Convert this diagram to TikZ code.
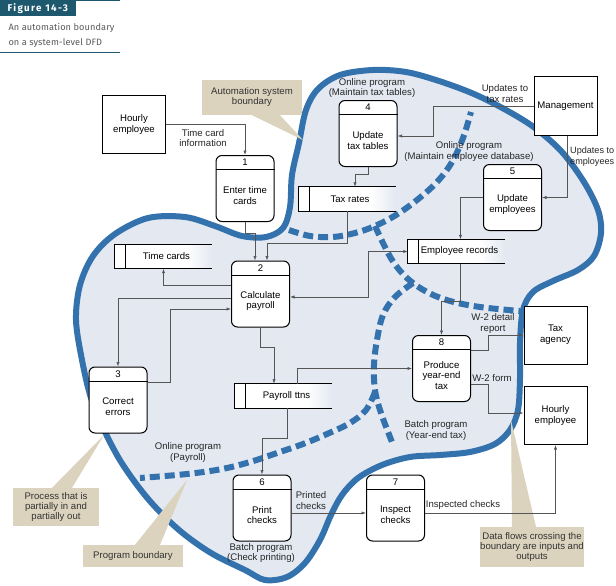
\documentclass[tikz,border=0pt]{standalone}
\usepackage{fontspec}
\setmainfont{Liberation Sans}
\newfontfamily\headfont[LetterSpace=14]{Fira Sans}
\newfontfamily\capfont[LetterSpace=1]{Fira Sans}
\usepackage{xcolor}
\usetikzlibrary{arrows.meta,calc}

\definecolor{blobblue}{RGB}{52,114,174}
\definecolor{blobfill}{RGB}{227,232,241}
\definecolor{notetan}{RGB}{219,211,189}
\definecolor{headteal}{RGB}{30,88,110}
\definecolor{flowgray}{RGB}{85,85,85}

\begin{document}
\begin{tikzpicture}[x=1pt, y=-1pt, >={Latex[length=4.5pt,width=3.2pt]},
  font=\fontsize{9.6}{10.8}\selectfont,
  proc/.style={draw, line width=1pt, rounded corners=6pt, fill=white,
    minimum width=58pt, minimum height=66pt, inner sep=0pt},
  procnum/.style={anchor=north, minimum height=14.5pt, inner sep=0pt},
  proctext/.style={align=center, inner sep=0pt},
  entity/.style={draw, line width=1pt, fill=white, minimum width=63pt,
    minimum height=58pt, align=center, inner sep=0pt},
  store/.style={minimum width=97pt, minimum height=24pt, inner sep=0pt,
    label={[xshift=3pt]center:#1},
    path picture={
      \fill[white] (path picture bounding box.south west)
        rectangle ([xshift=-25pt]path picture bounding box.north east);
      \shade[left color=white, right color=blobfill]
        ([xshift=-25pt]path picture bounding box.south east)
        rectangle (path picture bounding box.north east);}},
  flow/.style={draw=flowgray, line width=0.6pt, ->},
  flowtext/.style={align=center, inner sep=0pt, text=black!85},
  note/.style={fill=notetan, align=center, inner sep=0pt, text=black!80,
    font=\fontsize{9.6}{10}\selectfont},
  boundary/.style={draw=blobblue, line width=6pt, fill=blobfill},
  progline/.style={draw=blobblue, line width=6pt, dash pattern=on 10pt off 5pt},
]
  \useasboundingbox (0,0) rectangle (616,586);

  % figure caption
  \fill[headteal] (0,0) rectangle (76,16.5);
  \draw[headteal, line width=1pt] (0,0.5) -- (120,0.5);
  \node[anchor=west, text=white, font=\headfont\bfseries\fontsize{9.8}{10}\selectfont]
    (figno) at (4,8.5) {Figure 14-3};
  \node[anchor=north west, align=left, text=black!65, font=\capfont\fontsize{9.2}{15}\selectfont]
    (figcap) at (5,20) {An automation boundary\\on a system-level DFD};
  \draw[headteal, line width=1.2pt] (0,52.5) -- (120,52.5);

  % automation boundary
  \path[boundary] plot[smooth cycle, tension=0.55] coordinates {
    (373,70) (406,72) (439,81) (474,94) (506,110) (535,128) (562,152)
    (584,182) (598,210) (601,233) (594,256) (578,270) (553,281) (533,292)
    (523,310) (520,343) (520,378) (518,410) (510,430) (495,444) (470,452)
    (440,455) (410,457) (382,465) (358,478) (342,495) (331,515) (320,540)
    (305,563) (287,577) (265,580) (245,570) (211,553) (179,530) (149,500)
    (123,465) (105,432) (91,398) (82,360) (76,320) (80,285) (93,256)
    (115,234) (148,218) (185,217) (215,226) (242,236) (266,237) (283,228)
    (290,207) (292,175) (299,143) (306,110) (318,89) (340,75)};

  % program boundaries
  \draw[progline] plot[smooth, tension=0.6] coordinates {(289,230) (310,236)
    (333,237) (355,233) (375,226) (396,215) (417,200) (437,182) (452,162)
    (463,138) (471,112)};
  \draw[progline] plot[smooth, tension=0.6] coordinates {(375,226) (384,245)
    (394,263) (408,279) (427,292) (450,301) (480,307) (520,311)};
  \draw[progline] plot[smooth, tension=0.6] coordinates {(413,283) (395,297)
    (383,315) (377,340) (374,365) (375,390) (381,413) (392,442)};
  \draw[progline] plot[smooth, tension=0.6] coordinates {(375,392) (366,410)
    (350,423) (327,434) (303,444) (277,453) (250,462) (222,469) (187,474)
    (140,478)};

  % callouts
  \node[note, minimum width=100pt, minimum height=35pt] (nb1) at (252,97.5)
    {Automation system\\boundary};
  \coordinate (nb1tip) at (303,140);
  \fill[notetan] (nb1.south) -- (nb1tip) -- ([xshift=28pt]nb1.south) -- cycle;
  \node[note, minimum width=86pt, minimum height=38pt] (nb2) at (56,507)
    {Process that is\\partially in and\\partially out};
  \coordinate (nb2tip) at (104,435);
  \fill[notetan] ([xshift=-4pt]nb2.north) -- (nb2tip) -- ([xshift=16pt]nb2.north) -- cycle;
  \node[note, minimum width=100pt, minimum height=22pt] (nb3) at (133,556)
    {Program boundary};
  \coordinate (nb3tip) at (187,480);
  \fill[notetan] ([xshift=2pt]nb3.north) -- (nb3tip) -- ([xshift=27pt]nb3.north) -- cycle;
  \node[note, minimum width=104pt, minimum height=40pt] (nb4) at (532,547)
    {Data flows crossing the\\boundary are inputs and\\outputs};
  \coordinate (nb4tip) at (511,420);
  \fill[notetan] ([xshift=-20pt]nb4.north) -- (nb4tip) -- ([xshift=4pt]nb4.north) -- cycle;

  % external entities
  \node[entity] (he1) at (134,124.5) {Hourly\\employee};
  \node[entity] (mgmt) at (565.5,106) {Management};
  \node[entity] (tax) at (555.5,335) {Tax\\agency};
  \node[entity] (he2) at (555.5,415.5) {Hourly\\employee};

  % data stores
  \node[store=Time cards] (tc) at (163.5,256.5) {};
  \node[store=Tax rates] (tr) at (347,199) {};
  \node[store=Employee records] (er) at (456.5,251.5) {};
  \node[store=Payroll ttns] (pt) at (283.5,396) {};
  \foreach \s in {tc,tr,er,pt}{
    \draw[line width=1pt] (\s.north east) -- (\s.north west)
      -- (\s.south west) -- (\s.south east);
    \draw[line width=1pt] ([xshift=11pt]\s.north west) -- ([xshift=11pt]\s.south west);
  }

  % processes
  \foreach \n/\x/\y/\txt in {1/245/188.5/{Enter time\\cards},
      2/260.5/294/{Calculate\\payroll}, 3/118/400/{Correct\\errors},
      4/368/133.5/{Update\\tax tables}, 5/512.5/197.5/{Update\\employees},
      6/262/508/{Print\\checks}, 7/395.5/508/{Inspect\\checks},
      8/441.5/368.5/{Produce\\year-end\\tax}}{
    \node[proc] (p\n) at (\x,\y) {};
    \node[procnum] (n\n) at (p\n.north) {\n};
    \draw[line width=1pt] (n\n.south -| p\n.west) -- (n\n.south -| p\n.east);
    \node[proctext] (t\n) at ([yshift=-7pt]p\n.center) {\txt};
  }

  % data flows
  \draw[flow] (he1.east) -| (p1.north);
  \draw[flow] (p1.south) -- ++(0,11) -| ([xshift=-5.5pt]p2.north);
  \draw[flow] (tr.south) -- ++(0,32) -| ([xshift=6.5pt]p2.north);
  \draw[flow] ([yshift=9pt]p2.west) -| (tc.south);
  \draw[flow] ([yshift=-4pt]p2.west) -| (p3.north);
  \draw[flow] ([yshift=18pt]p3.east) -- ++(23,0) |- ([yshift=-15pt]p2.west);
  \draw[flow, <->] ([yshift=-3pt]p2.east) -- ++(78,0) |- (er.west);
  \draw[flow] (p5.west) -| ([xshift=4pt]er.north);
  \draw[flow] ([xshift=4pt]er.south) -- ++(0,38) -| (p8.north);
  \draw[flow] (p4.south) -- ++(0,7) -| ([xshift=8pt]tr.north);
  \draw[flow] (mgmt.west) -- ++(-100,0) |- ([yshift=-2.5pt]p4.east);
  \draw[flow] ([xshift=1.5pt]mgmt.south) |- (p5.east);
  \draw[flow] (p2.south) -- ++(0,20) -| ([xshift=-9.5pt]pt.north);
  \draw[flow] ([xshift=13.5pt]pt.north) |- (p8.west);
  \draw[flow] ([xshift=3.5pt]pt.south) -- ++(0,30) -| (p6.north);
  \draw[flow] ([yshift=18.5pt]p8.east) -- ++(17,0) |- (tax.west);
  \draw[flow] ([yshift=-15.5pt]p8.east) -- ++(17,0) |- ([yshift=2.5pt]he2.west);
  \draw[flow] ([yshift=-5pt]p6.east) -- ([yshift=-5pt]p7.west);
  \draw[flow] ([yshift=-5pt]p7.east) -| (he2.south);

  % flow and program labels
  \node[flowtext] (l1) at (203,138) {Time card\\information};
  \node[flowtext] (l2) at (505,93.5) {Updates to\\tax rates};
  \node[flowtext, anchor=west, align=left, font=\fontsize{9.1}{10.8}\selectfont]
    (l3) at (570,156.5) {Updates to\\employees};
  \node[flowtext] (l4) at (493,323.5) {W-2 detail\\report};
  \node[flowtext] (l5) at (492,378) {W-2 form};
  \node[flowtext] (l6) at (311,500.5) {Printed\\checks};
  \node[flowtext] (l7) at (463,505) {Inspected checks};
  \node[flowtext] (g1) at (372,88) {Online program\\(Maintain tax tables)};
  \node[flowtext] (g2) at (469,151.5) {Online program\\(Maintain employee database)};
  \node[flowtext] (g3) at (188,452.5) {Online program\\(Payroll)};
  \node[flowtext] (g4) at (261,553) {Batch program\\(Check printing)};
  \node[flowtext] (g5) at (436,430.5) {Batch program\\(Year-end tax)};
\end{tikzpicture}
\end{document}
